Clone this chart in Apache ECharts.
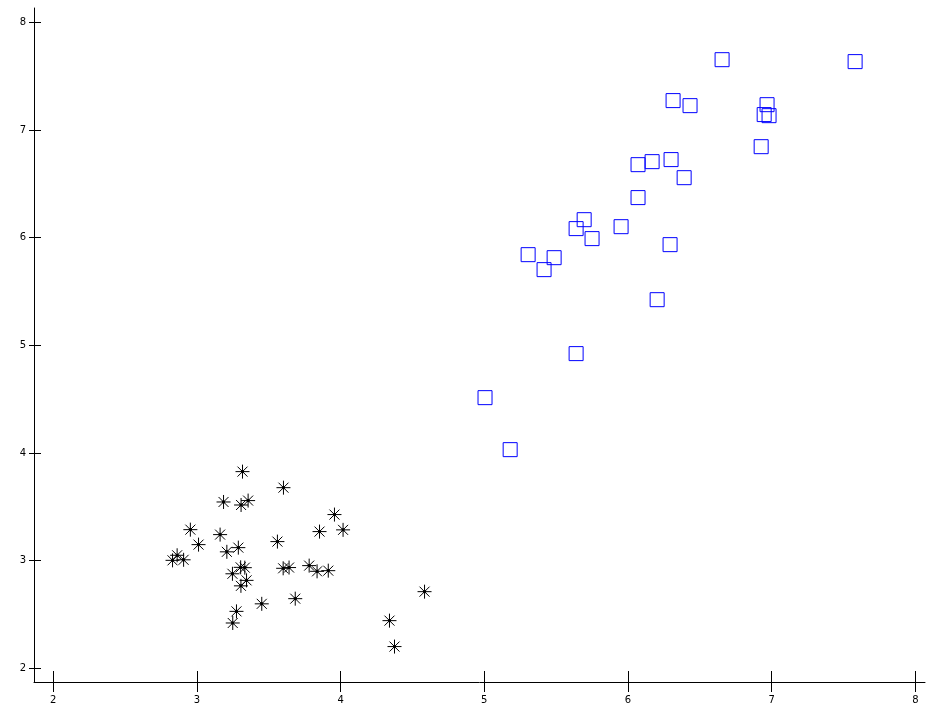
<!DOCTYPE html>
<html>
<head>
<meta charset="utf-8">
<script src="https://cdn.jsdelivr.net/npm/echarts@6/dist/echarts.min.js"></script>
<style>html,body{margin:0;padding:0;background:#fff;}#c{width:928px;height:706px;}</style>
</head>
<body>
<div id="c"></div>
<script>
var xTicks = [2, 3, 4, 5, 6, 7, 8];
var yTicks = [2, 3, 4, 5, 6, 7, 8];

var starX = [3.317, 3.602, 3.185, 3.307, 3.356, 3.957, 2.954, 3.161, 3.011, 3.208, 3.288, 3.560, 3.853, 4.017, 2.862, 2.830, 2.907, 3.304, 3.333, 3.247, 3.345, 3.306, 3.600, 3.641, 3.781, 3.836, 3.914, 3.451, 3.684, 3.275, 3.249, 4.584, 4.340, 4.375];
var starY = [3.827, 3.678, 3.545, 3.517, 3.558, 3.428, 3.288, 3.242, 3.149, 3.082, 3.121, 3.177, 3.270, 3.286, 3.050, 3.003, 3.008, 2.938, 2.935, 2.878, 2.817, 2.766, 2.929, 2.936, 2.954, 2.901, 2.907, 2.599, 2.647, 2.529, 2.421, 2.712, 2.443, 2.202];

var squareX = [6.655, 7.581, 6.314, 6.432, 6.968, 6.948, 6.982, 6.927, 6.070, 6.168, 6.300, 6.391, 6.070, 5.695, 5.639, 5.750, 5.952, 6.293, 5.305, 5.486, 5.416, 6.203, 5.639, 5.005, 5.180];
var squareY = [7.653, 7.635, 7.273, 7.226, 7.235, 7.143, 7.133, 6.845, 6.678, 6.706, 6.725, 6.557, 6.372, 6.167, 6.084, 5.991, 6.102, 5.935, 5.842, 5.814, 5.703, 5.424, 4.923, 4.514, 4.031];

function pairs(xs, ys) { return xs.map(function (x, i) { return [x, ys[i]]; }); }

var xMin = 1.8657, xMax = 8.0674, yMin = 1.873, yMax = 8.133;
var starPath = 'path://M0,-7L0,7M-7,0L7,0M-5,-5L5,5M-5,5L5,-5M-1,-1L1,-1L1,1L-1,1Z';
var font = { fontFamily: 'DejaVu Sans', fontSize: 10, color: '#000' };

var chart = echarts.init(document.getElementById('c'), null, { renderer: 'canvas' });
chart.setOption({
  animation: false,
  backgroundColor: '#fff',
  grid: { left: 34, right: 3, top: 8, bottom: 24, containLabel: false },
  xAxis: [
    { type: 'value', min: xMin, max: xMax, position: 'bottom',
      axisLine: { show: true, lineStyle: { color: '#000', width: 1 } },
      axisTick: { show: true, inside: false, length: 10, customValues: xTicks, lineStyle: { color: '#000' } },
      axisLabel: Object.assign({ show: true, margin: 13, customValues: xTicks }, font),
      splitLine: { show: false } },
    { type: 'value', min: xMin, max: xMax, position: 'bottom',
      axisLine: { show: false },
      axisTick: { show: true, inside: true, length: 11, customValues: xTicks, lineStyle: { color: '#000' } },
      axisLabel: { show: false }, splitLine: { show: false } }
  ],
  yAxis: [
    { type: 'value', min: yMin, max: yMax, position: 'left',
      axisLine: { show: true, lineStyle: { color: '#000', width: 1 } },
      axisTick: { show: true, inside: false, length: 5, customValues: yTicks, lineStyle: { color: '#000' } },
      axisLabel: Object.assign({ show: true, margin: 8, customValues: yTicks }, font),
      splitLine: { show: false } },
    { type: 'value', min: yMin, max: yMax, position: 'left',
      axisLine: { show: false },
      axisTick: { show: true, inside: true, length: 7, customValues: yTicks, lineStyle: { color: '#000' } },
      axisLabel: { show: false }, splitLine: { show: false } }
  ],
  series: [
    { type: 'scatter', xAxisIndex: 0, yAxisIndex: 0, data: pairs(starX, starY),
      symbol: starPath, symbolSize: 14,
      itemStyle: { color: '#000', borderColor: '#000', borderWidth: 1, opacity: 1 } },
    { type: 'scatter', xAxisIndex: 0, yAxisIndex: 0, data: pairs(squareX, squareY),
      symbol: 'rect', symbolSize: 14,
      itemStyle: { color: 'rgba(0,0,0,0)', borderColor: '#0000ff', borderWidth: 1, opacity: 1 } }
  ]
});
</script>
</body>
</html>
